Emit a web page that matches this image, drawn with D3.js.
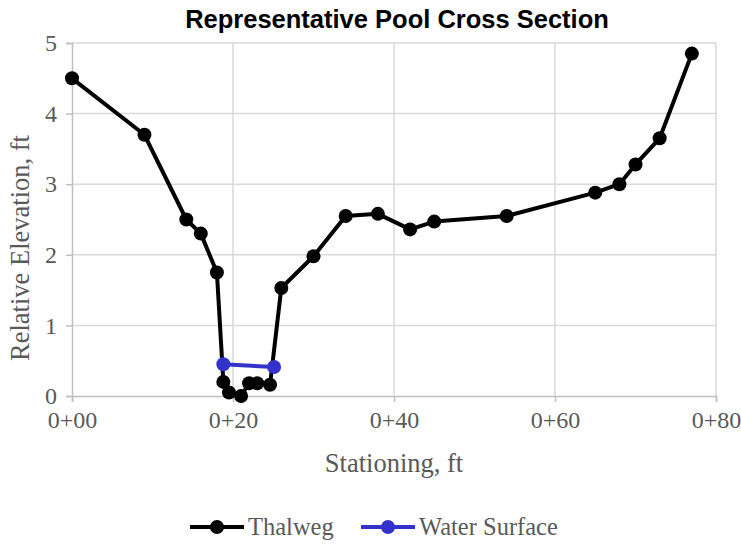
<!DOCTYPE html>
<html><head><meta charset="utf-8">
<script src="https://cdn.jsdelivr.net/npm/d3@7"></script>
<style>body{margin:0;background:#fff;}svg{display:block;}</style>
</head><body>
<script>
const thalwegStation = [0, 9, 14.2, 16, 18, 18.8, 19.5, 21, 22, 23, 24.6, 26, 30, 34, 38, 42, 45, 54, 65, 68, 70, 73, 77];
const thalwegElev    = [4.5, 3.7, 2.5, 2.3, 1.75, 0.2, 0.05, 0.0, 0.18, 0.18, 0.16, 1.53, 1.98, 2.55, 2.58, 2.36, 2.47, 2.55, 2.88, 3.0, 3.28, 3.65, 4.85];
const waterStation = [18.8, 25.1];
const waterElev    = [0.45, 0.41];
const xTicks = [0, 20, 40, 60, 80];
const xTickLabels = ["0+00", "0+20", "0+40", "0+60", "0+80"];
const yTicks = [0, 1, 2, 3, 4, 5];
const seriesNames = ["Thalweg", "Water Surface"];
const seriesColors = ["#000000", "#3333cc"];

const W = 741, H = 544;
const m = {left: 72, right: 25, top: 43, bottom: 148};
const svg = d3.select("body").append("svg").attr("width", W).attr("height", H);
const x = d3.scaleLinear().domain([0, 80]).range([m.left, W - m.right]);
const y = d3.scaleLinear().domain([0, 5]).range([H - m.bottom, m.top]);

const grid = "#d9d9d9", axisCol = "#bfbfbf", txt = "#595959";
const serif = "'Liberation Serif','Times New Roman',serif";

// gridlines
svg.append("g").selectAll("line").data(yTicks.filter(d => d > 0)).join("line")
  .attr("x1", x(0)).attr("x2", x(80)).attr("y1", d => y(d)).attr("y2", d => y(d))
  .attr("stroke", grid).attr("stroke-width", 1.5);
svg.append("g").selectAll("line").data(xTicks.filter(d => d > 0)).join("line")
  .attr("x1", d => x(d)).attr("x2", d => x(d)).attr("y1", y(0)).attr("y2", y(5))
  .attr("stroke", grid).attr("stroke-width", 1.5);

// axes
const xAxis = svg.append("g").attr("transform", `translate(0,${y(0)})`)
  .call(d3.axisBottom(x).tickValues(xTicks).tickFormat((d, i) => xTickLabels[i]).tickSize(6).tickPadding(9));
const yAxis = svg.append("g").attr("transform", `translate(${x(0)},0)`)
  .call(d3.axisLeft(y).tickValues(yTicks).tickFormat(d3.format("d")).tickSize(6).tickPadding(9));
[xAxis, yAxis].forEach(a => {
  a.select(".domain").attr("stroke", axisCol).attr("stroke-width", 1.5);
  a.selectAll(".tick line").attr("stroke", axisCol).attr("stroke-width", 1.5);
  a.selectAll(".tick text").attr("fill", txt).attr("font-family", serif).attr("font-size", 24);
});

// series
const line = d3.line().x(d => x(d[0])).y(d => y(d[1]));
const thal = thalwegStation.map((s, i) => [s, thalwegElev[i]]);
const water = waterStation.map((s, i) => [s, waterElev[i]]);
[[thal, seriesColors[0]], [water, seriesColors[1]]].forEach(([data, c]) => {
  svg.append("path").datum(data).attr("d", line).attr("fill", "none")
    .attr("stroke", c).attr("stroke-width", 4).attr("stroke-linejoin", "round");
  svg.append("g").selectAll("circle").data(data).join("circle")
    .attr("cx", d => x(d[0])).attr("cy", d => y(d[1])).attr("r", 7).attr("fill", c);
});

// title
svg.append("text").attr("x", 397).attr("y", 28).attr("text-anchor", "middle")
  .attr("font-family", "'Liberation Sans',Arial,sans-serif").attr("font-weight", "bold")
  .attr("font-size", 25.5).attr("fill", "#000").text("Representative Pool Cross Section");

// axis titles
svg.append("text").attr("x", 394).attr("y", 472).attr("text-anchor", "middle")
  .attr("font-family", serif).attr("font-size", 26.5).attr("fill", txt).text("Stationing, ft");
svg.append("text").attr("transform", "translate(29,248) rotate(-90)").attr("text-anchor", "middle")
  .attr("font-family", serif).attr("font-size", 26.5).attr("fill", txt).text("Relative Elevation, ft");

// legend
const legX = [190, 361];
seriesNames.forEach((n, i) => {
  const g = svg.append("g").attr("transform", `translate(${legX[i]},527)`);
  g.append("line").attr("x1", 0).attr("x2", 54).attr("stroke", seriesColors[i]).attr("stroke-width", 4);
  g.append("circle").attr("cx", 27).attr("r", 7).attr("fill", seriesColors[i]);
  g.append("text").attr("x", 58).attr("y", 8).attr("font-family", serif).attr("font-size", 24.5)
    .attr("fill", txt).text(n);
});
</script>
</body></html>
